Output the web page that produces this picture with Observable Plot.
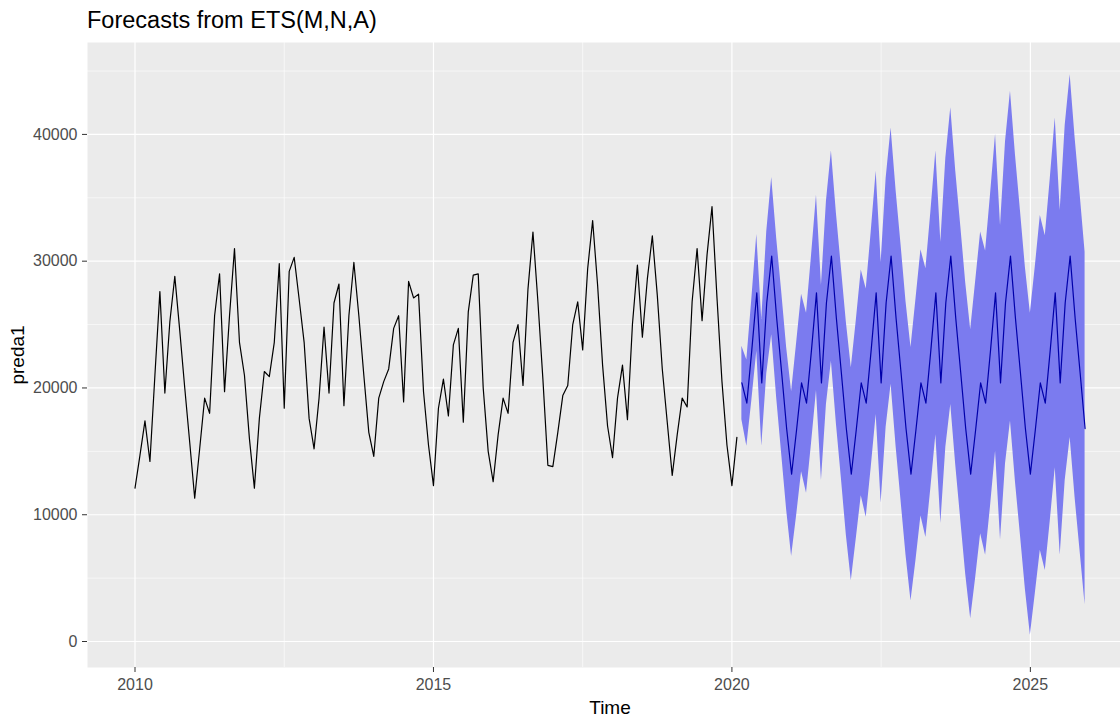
<!DOCTYPE html>
<html>
<head>
<meta charset="utf-8">
<script src="https://cdn.jsdelivr.net/npm/d3@7"></script>
<script src="https://cdn.jsdelivr.net/npm/@observablehq/plot@0.6"></script>
<style>
  html, body { margin: 0; padding: 0; background: white; }
  #title { height: 42px; box-sizing: border-box; padding-left: 87px; padding-top: 8px;
           font-family: "Liberation Sans", Arial, sans-serif; font-size: 23.5px; line-height: 24px; color: #000; white-space: nowrap; }
  #chart svg { display: block; }
</style>
</head>
<body>
<div id="title">Forecasts from ETS(M,N,A)</div>
<div id="chart"></div>
<script>
// Observed monthly series (Jan 2010 – Feb 2020)
const startYear = 2010;
const observed = [
  12100, 14700, 17400, 14200, 21000, 27600, 19600, 25200, 28800, 24500, 20000, 15700, // 2010
  11300, 15200, 19200, 18000, 25700, 29000, 19700, 25700, 31000, 23600, 21000, 16000, // 2011
  12100, 17600, 21300, 20900, 23600, 29800, 18400, 29200, 30300, 27000, 23600, 17600, // 2012
  15200, 19200, 24800, 19600, 26700, 28200, 18600, 25700, 29900, 25700, 21000, 16500, // 2013
  14600, 19200, 20500, 21500, 24700, 25700, 18900, 28400, 27100, 27400, 19700, 15500, // 2014
  12300, 18400, 20700, 17800, 23400, 24700, 17300, 26000, 28900, 29000, 20000, 15000, // 2015
  12600, 16300, 19200, 18000, 23600, 25000, 20200, 27800, 32300, 26800, 20700, 13900, // 2016
  13800, 16500, 19400, 20200, 25000, 26800, 23000, 29400, 33200, 28100, 21800, 17000, // 2017
  14500, 19200, 21800, 17500, 25000, 29700, 24000, 28600, 32000, 27300, 21500, 17300, // 2018
  13100, 16300, 19200, 18500, 26800, 31000, 25300, 30500, 34300, 27100, 20500, 15500, // 2019
  12300, 16100                                                                          // 2020
];

// Forecast (Mar 2020 – Dec 2025): point forecast and interval bounds
const forecastStartMonth = 2; // March 2020 (0-based month index)
const forecastMean = [
                20400, 18800, 23000, 27500, 20400, 26700, 30400, 25500, 21200, 16800, // 2020
  13200, 16700, 20400, 18800, 23000, 27500, 20400, 26700, 30400, 25500, 21200, 16800, // 2021
  13200, 16700, 20400, 18800, 23000, 27500, 20400, 26700, 30400, 25500, 21200, 16800, // 2022
  13200, 16700, 20400, 18800, 23000, 27500, 20400, 26700, 30400, 25500, 21200, 16800, // 2023
  13200, 16700, 20400, 18800, 23000, 27500, 20400, 26700, 30400, 25500, 21200, 16800, // 2024
  13200, 16700, 20400, 18800, 23000, 27500, 20400, 26700, 30400, 25500, 21200, 16800  // 2025
];
const forecastLower = [
                17500, 15400, 19000, 22900, 15400, 21100, 24200, 19200, 14800, 10400,
   6700,  9900, 13400, 11700, 15600, 19800, 12700, 18700, 22100, 17200, 12900,  8400,
   4800,  8100, 11500,  9800, 13700, 17900, 10900, 16900, 20300, 15400, 11100,  6800,
   3200,  6400,  9900,  8200, 12100, 16300,  9300, 15300, 18700, 13900,  9600,  5300,
   1800,  5000,  8500,  6800, 10700, 15000,  8000, 14000, 17400, 12600,  8400,  4100,
    500,  3800,  7200,  5600,  9500, 13700,  6800, 12700, 16100, 11300,  7100,  2900
];
const forecastUpper = [
                23300, 22200, 27000, 32100, 25400, 32300, 36600, 31800, 27600, 23200,
  19700, 23500, 27400, 25900, 30400, 35200, 28100, 34700, 38700, 33800, 29500, 25200,
  21600, 25300, 29300, 27800, 32300, 37100, 29900, 36500, 40500, 35600, 31300, 26800,
  23200, 27000, 30900, 29400, 33900, 38700, 31500, 38100, 42100, 37100, 32800, 28300,
  24600, 28400, 32300, 30800, 35300, 40000, 32800, 39400, 43400, 38400, 34000, 29500,
  25900, 29600, 33600, 32000, 36500, 41300, 34000, 40700, 44700, 39700, 35300, 30700
];

const xTicks = [2010, 2015, 2020, 2025];
const xMinor = [2012.5, 2017.5, 2022.5];
const yTicks = [0, 10000, 20000, 30000, 40000];
const yMinor = [5000, 15000, 25000, 35000, 45000];

const obsTable = observed.map((v, i) => ({t: startYear + i / 12, v}));
const fcTable = forecastMean.map((m, i) => ({
  t: 2020 + (forecastStartMonth + i) / 12,
  mean: m, lo: forecastLower[i], hi: forecastUpper[i]
}));

const chart = Plot.plot({
  width: 1120,
  height: 675,
  marginTop: 0,
  marginLeft: 87,
  marginRight: 0,
  marginBottom: 50,
  style: {fontFamily: "'Liberation Sans', Arial, sans-serif", background: "white", overflow: "visible"},
  x: {domain: [2009.204, 2026.51]},
  y: {domain: [-2050, 47250]},
  marks: [
    Plot.frame({fill: "#EBEBEB", stroke: null}),
    Plot.gridX(xMinor, {stroke: "white", strokeOpacity: 1, strokeWidth: 0.6}),
    Plot.gridY(yMinor, {stroke: "white", strokeOpacity: 1, strokeWidth: 0.6}),
    Plot.gridX(xTicks, {stroke: "white", strokeOpacity: 1, strokeWidth: 1.2}),
    Plot.gridY(yTicks, {stroke: "white", strokeOpacity: 1, strokeWidth: 1.2}),
    Plot.areaY(fcTable, {x: "t", y1: "lo", y2: "hi", fill: "#7b7bef", fillOpacity: 1}),
    Plot.line(obsTable, {x: "t", y: "v", stroke: "black", strokeWidth: 1.2}),
    Plot.line(fcTable, {x: "t", y: "mean", stroke: "#0000AA", strokeWidth: 1.2}),
    Plot.axisX(xTicks, {tickSize: 5, tickPadding: 6, fontSize: 16, stroke: "#333333", fill: "#4D4D4D",
                        tickFormat: d => String(d), label: null}),
    Plot.axisY(yTicks, {tickSize: 5, tickPadding: 5, fontSize: 16, stroke: "#333333", fill: "#4D4D4D",
                        tickFormat: d => String(d), label: null}),
    Plot.text(["Time"], {frameAnchor: "bottom", text: d => d, dx: 6, dy: 40, lineAnchor: "middle",
                         fontSize: 19, fill: "black"}),
    Plot.text(["preda1"], {frameAnchor: "left", text: d => d, dx: -70, rotate: -90, lineAnchor: "middle",
                           textAnchor: "middle", fontSize: 19, fill: "black"})
  ]
});
document.getElementById("chart").appendChild(chart);
</script>
</body>
</html>
